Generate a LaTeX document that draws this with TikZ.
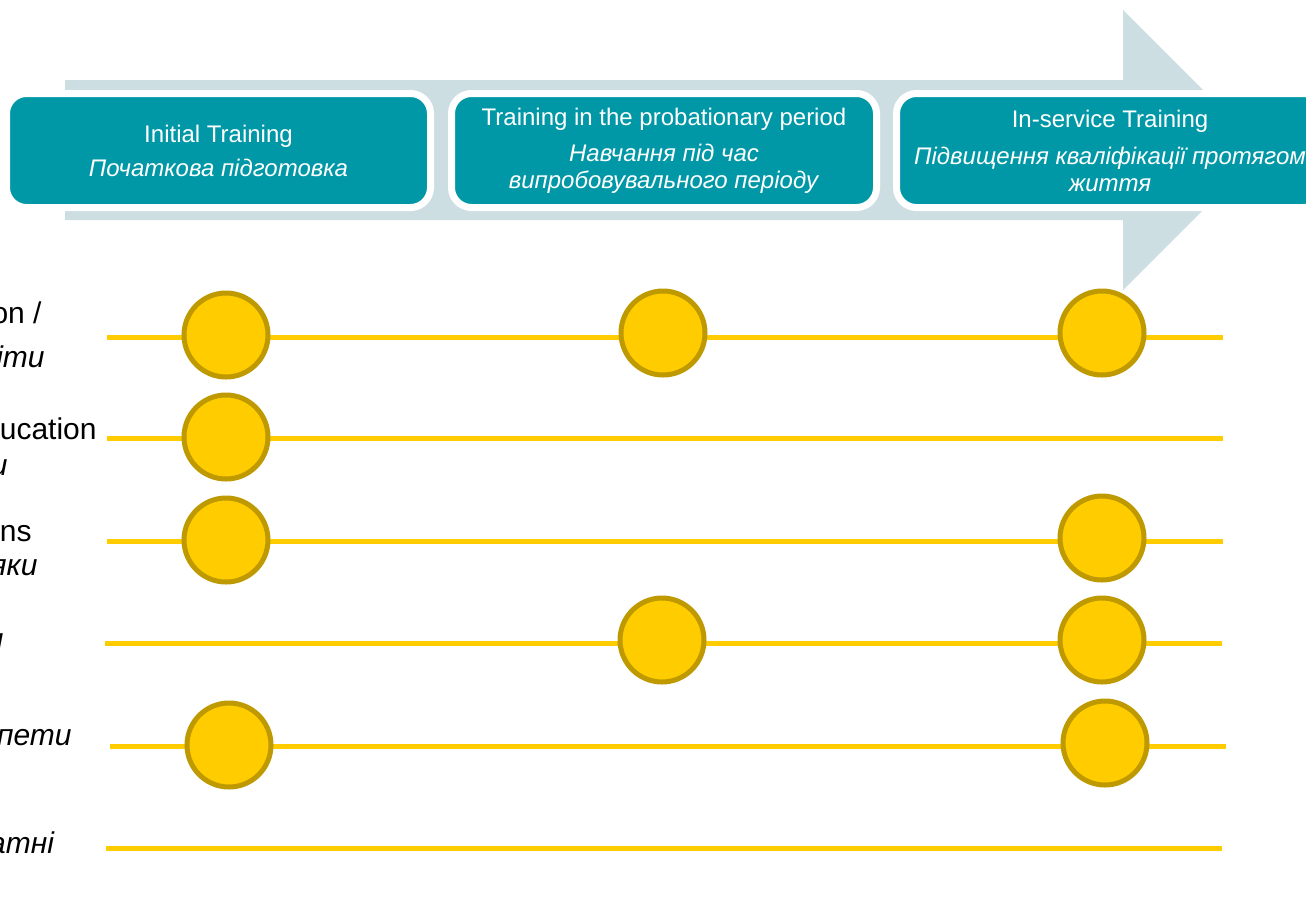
\documentclass[tikz,border=0pt]{standalone}
\usepackage{fontspec}
\setmainfont{Liberation Sans}
\definecolor{arrowbg}{HTML}{CDDEE3}
\definecolor{stageteal}{HTML}{0098A6}
\definecolor{trackyellow}{HTML}{FFCC00}
\definecolor{spotrim}{HTML}{BF9900}
\tikzset{
    stage/.style={rectangle, rounded corners=10pt, fill=stageteal, draw=white, line width=3.5pt,
        minimum height=57pt, text=white, align=center, font=\fontsize{12}{13.5}\selectfont},
    track/.style={-, draw=trackyellow, line width=2.5pt},
    spot/.style={circle, draw=spotrim, fill=trackyellow, line width=2.5pt, minimum size=42pt, inner sep=0pt},
    rowlabel/.style={anchor=base east, inner sep=0pt, font=\fontsize{15}{17}\selectfont},
}

\begin{document}
\begin{tikzpicture}[x=0.5pt, y=-0.5pt]
    \useasboundingbox (0,0) rectangle (1306,896);
    % big arrow behind the stages
    \fill[arrowbg] (65,80) -- (1123,80) -- (1123,10) -- (1263,150) -- (1123,290) -- (1123,220) -- (65,220) -- cycle;

    \node[stage, minimum width=212pt] (initial) at (218.5,150.5) {Initial Training\\[3.5pt]\textit{Початкова підготовка}};
    \node[stage, minimum width=212.5pt] (probation) at (664,150.5) {Training in the probationary period\\[4.5pt]\textit{Навчання під час}\\\textit{випробовувального періоду}};
    \node[stage, minimum width=213.5pt] (inservice) at (1110,150.5) {In-service Training\\[5pt]\textit{Підвищення кваліфікації протягом}\\\textit{життя}};

    % row labels (cut at the left edge)
    \node[rowlabel] (lab1a) at (42,323) {on /};
    \node[rowlabel] (lab1b) at (45,367) {\textit{іти}};
    \node[rowlabel] (lab2a) at (97,439) {ucation};
    \node[rowlabel] (lab2b) at (8,475) {\textit{и}};
    \node[rowlabel] (lab3a) at (32,541) {ns};
    \node[rowlabel] (lab3b) at (38,575) {\textit{яки}};
    \node[rowlabel] (lab4b) at (4,649) {\textit{и}};
    \node[rowlabel] (lab5b) at (72,745) {\textit{пети}};
    \node[rowlabel] (lab6b) at (55,853) {\textit{атні}};

    % tracks
    \coordinate (t1s) at (107,337); \coordinate (t1e) at (1223,337);
    \coordinate (t2s) at (107,438); \coordinate (t2e) at (1223,438);
    \coordinate (t3s) at (107,541); \coordinate (t3e) at (1223,541);
    \coordinate (t4s) at (105,643); \coordinate (t4e) at (1222,643);
    \coordinate (t5s) at (110,746); \coordinate (t5e) at (1226,746);
    \coordinate (t6s) at (106,848); \coordinate (t6e) at (1222,848);
    \draw[track] (t1s) -- (t1e);
    \draw[track] (t2s) -- (t2e);
    \draw[track] (t3s) -- (t3e);
    \draw[track] (t4s) -- (t4e);
    \draw[track] (t5s) -- (t5e);
    \draw[track] (t6s) -- (t6e);

    % spots
    \node[spot] (s11) at (226,335) {};
    \node[spot] (s12) at (663,333) {};
    \node[spot] (s13) at (1102,333) {};
    \node[spot] (s21) at (226,437) {};
    \node[spot] (s31) at (226,540) {};
    \node[spot] (s33) at (1102,538) {};
    \node[spot] (s42) at (662,640) {};
    \node[spot] (s43) at (1102,640) {};
    \node[spot] (s51) at (229,745) {};
    \node[spot] (s53) at (1105,743) {};
\end{tikzpicture}
\end{document}
